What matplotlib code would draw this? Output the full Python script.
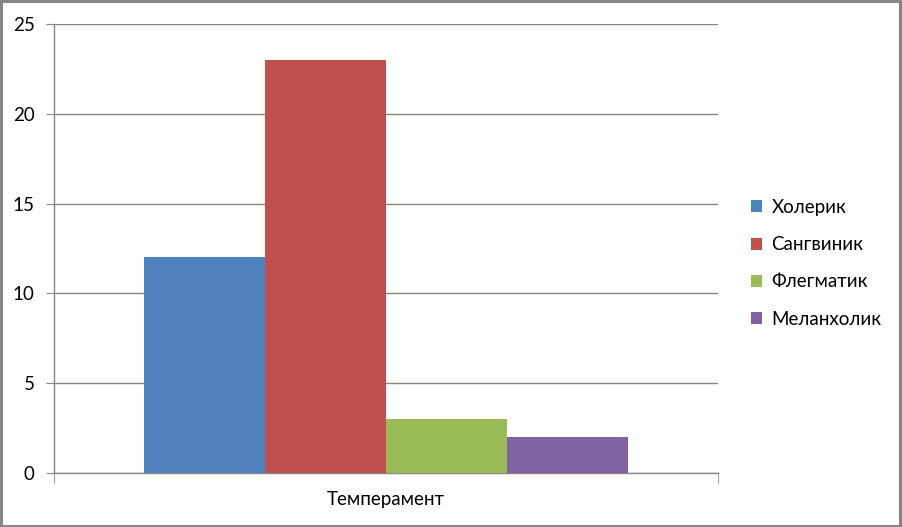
import matplotlib.pyplot as plt
from matplotlib.patches import Rectangle

plt.rcParams['font.family'] = ['Lato', 'DejaVu Sans']

# данные
category = 'Темперамент'
names = ['Холерик', 'Сангвиник', 'Флегматик', 'Меланхолик']
values = [12, 23, 3, 2]
colors = ['#4F81BD', '#C0504D', '#9BBB59', '#8064A2']

fig = plt.figure(figsize=(9.02, 5.27), dpi=100)
ax = fig.add_axes([54 / 902, 1 - 473 / 527, 664 / 902, 449 / 527])

w = 121 / 664
for i, (n, v, c) in enumerate(zip(names, values, colors)):
    ax.bar((i - 1.5) * w, v, width=w, color=c, label=n, zorder=3)

ax.set_xlim(-0.5, 0.5)
ax.set_ylim(0, 25)
ax.set_yticks(range(0, 26, 5))
ax.yaxis.grid(True, color='#868686', linewidth=1, zorder=0)

for s in ['top', 'right']:
    ax.spines[s].set_visible(False)
for s in ['left', 'bottom']:
    ax.spines[s].set_color('#868686')
    ax.spines[s].set_linewidth(1)

fs = 13.5
ax.tick_params(axis='y', length=6, color='#868686', labelsize=fs, pad=8)
ax.set_xticks([0])
ax.set_xticklabels([category], fontsize=fs)
ax.tick_params(axis='x', length=0, pad=13)
ax.set_xticks([-0.5, 0.5], minor=True)
ax.tick_params(axis='x', which='minor', length=7, color='#868686')

ax.legend(loc='center left', bbox_to_anchor=(1.038, 0.467), frameon=False,
          fontsize=fs, handlelength=0.6, handleheight=0.6,
          handletextpad=0.5, labelspacing=1.08, borderaxespad=0)

# рамка вокруг рисунка
fig.patches.append(Rectangle((0.001, 0.002), 0.997, 0.996, transform=fig.transFigure,
                             fill=False, edgecolor='#868686', linewidth=2.2))

fig.savefig('out.png', dpi=100)
